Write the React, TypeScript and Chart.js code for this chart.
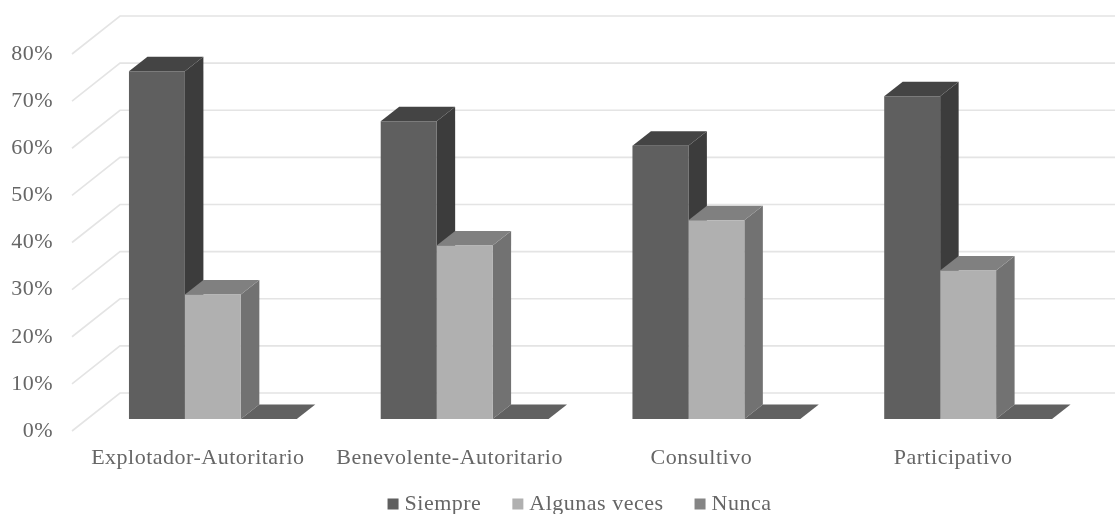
import React, { useEffect, useRef } from "react";
import { Chart, registerables } from "chart.js";

Chart.register(...registerables);

const categories = ["Explotador-Autoritario", "Benevolente-Autoritario", "Consultivo", "Participativo"];
const siempre = [73.8, 63.2, 58, 68.5];
const algunasVeces = [26.4, 36.8, 42.2, 31.5];
const nunca = [0, 0, 0, 0];

const FONT = "'Liberation Serif', serif";
const FONT_SIZE = 22;
const TRACKING = "0.5px";
const TEXT = "#666666";
const GRID = "#e4e4e4";

// Oblique projection: wall behind the axis, bar plane and bar depth, in pixels.
const WALL = { dx: 48, dy: -38 };
const PLANE = { dx: 15, dy: -12 };
const DEPTH = { dx: 18.5, dy: -14.5 };

const faces = [
  { top: "#444444", side: "#3c3c3c" },
  { top: "#808080", side: "#727272" },
  { top: "#616161", side: "#616161" },
];

function poly(ctx: CanvasRenderingContext2D, pts: number[][], color: string) {
  ctx.beginPath();
  pts.forEach(([x, y], i) => (i ? ctx.lineTo(x, y) : ctx.moveTo(x, y)));
  ctx.closePath();
  ctx.fillStyle = color;
  ctx.fill();
}

const tracking = {
  id: "tracking",
  beforeLayout(chart: any) {
    chart.ctx.letterSpacing = TRACKING;
  },
  beforeDraw(chart: any) {
    chart.ctx.letterSpacing = TRACKING;
  },
};

const perspective = {
  id: "perspective",
  beforeDatasetsDraw(chart: any) {
    const { ctx, chartArea, scales } = chart;
    ctx.save();
    ctx.strokeStyle = GRID;
    ctx.lineWidth = 1.6;
    scales.y.ticks.forEach((t: any) => {
      const y = scales.y.getPixelForValue(t.value);
      ctx.beginPath();
      ctx.moveTo(chartArea.left, y);
      ctx.lineTo(chartArea.left + WALL.dx, y + WALL.dy);
      ctx.lineTo(chartArea.right + WALL.dx, y + WALL.dy);
      ctx.stroke();
    });
    ctx.restore();
    ctx.save();
    ctx.translate(PLANE.dx, PLANE.dy);
    // Back faces go first, series by series, so the native bar fronts land on top.
    chart.data.datasets.forEach((_: any, i: number) => {
      const look = faces[i];
      chart.getDatasetMeta(i).data.forEach((bar: any) => {
        const l = bar.x - bar.width / 2;
        const r = bar.x + bar.width / 2;
        const { y, base } = bar;
        const { dx, dy } = DEPTH;
        if (base - y > 0.5) {
          poly(ctx, [[r, y], [r + dx, y + dy], [r + dx, base + dy], [r, base]], look.side);
        }
        poly(ctx, [[l, y], [r, y], [r + dx, y + dy], [l + dx, y + dy]], look.top);
      });
    });
  },
  afterDatasetsDraw(chart: any) {
    chart.ctx.restore();
  },
};

// Legend row with a tight swatch-to-text gap, which the built-in legend cannot set.
const legendRow = {
  id: "legendRow",
  afterDraw(chart: any) {
    const { ctx } = chart;
    const box = 11;
    const textGap = 6;
    const itemGap = 31;
    const y = 504;
    ctx.save();
    ctx.font = `${FONT_SIZE}px ${FONT}`;
    ctx.letterSpacing = TRACKING;
    ctx.textBaseline = "middle";
    ctx.textAlign = "left";
    const items = chart.data.datasets.map((d: any) => ({
      text: d.label,
      color: d.backgroundColor,
      w: ctx.measureText(d.label).width,
    }));
    const total =
      items.reduce((s: number, it: any) => s + box + textGap + it.w, 0) + itemGap * (items.length - 1);
    let x = (chart.width + 44 - total) / 2;
    items.forEach((it: any) => {
      ctx.fillStyle = it.color;
      ctx.fillRect(x, y - box / 2, box, box);
      ctx.fillStyle = TEXT;
      ctx.fillText(it.text, x + box + textGap, y);
      x += box + textGap + it.w + itemGap;
    });
    ctx.restore();
  },
};

export default function App() {
  const ref = useRef<HTMLCanvasElement>(null);
  useEffect(() => {
    const chart = new Chart(ref.current!, {
      type: "bar",
      data: {
        labels: categories,
        datasets: [
          { label: "Siempre", data: siempre, backgroundColor: "#5f5f5f" },
          { label: "Algunas veces", data: algunasVeces, backgroundColor: "#b0b0b0" },
          { label: "Nunca", data: nunca, backgroundColor: "#858585" },
        ].map((d) => ({ ...d, barPercentage: 1, categoryPercentage: 2 / 3, clip: false as any })),
      },
      options: {
        responsive: false,
        animation: false,
        layout: { padding: { top: 54, right: 36, left: 0, bottom: 0 } },
        plugins: {
          title: { display: false },
          tooltip: { enabled: false },
          legend: { display: false },
        },
        scales: {
          x: {
            grid: { display: false },
            border: { display: false },
            ticks: {
              color: TEXT,
              font: { family: FONT, size: FONT_SIZE },
              padding: 6,
              maxRotation: 0,
              autoSkip: false,
            },
            afterFit: (s: any) => {
              s.height = 83;
            },
          },
          y: {
            min: 0,
            max: 80,
            grid: { display: false, drawTicks: false },
            border: { display: false },
            ticks: {
              stepSize: 10,
              color: TEXT,
              padding: 19,
              font: { family: FONT, size: FONT_SIZE },
              callback: (v: any) => `${v}%`,
            },
            afterFit: (s: any) => {
              s.width = 72;
            },
          },
        },
      },
      plugins: [tracking, perspective, legendRow],
    });
    return () => chart.destroy();
  }, []);
  return (
    <canvas
      ref={ref}
      width={1115}
      height={514}
      style={{ position: "absolute", left: 0, top: 0, background: "#ffffff" }}
    />
  );
}
